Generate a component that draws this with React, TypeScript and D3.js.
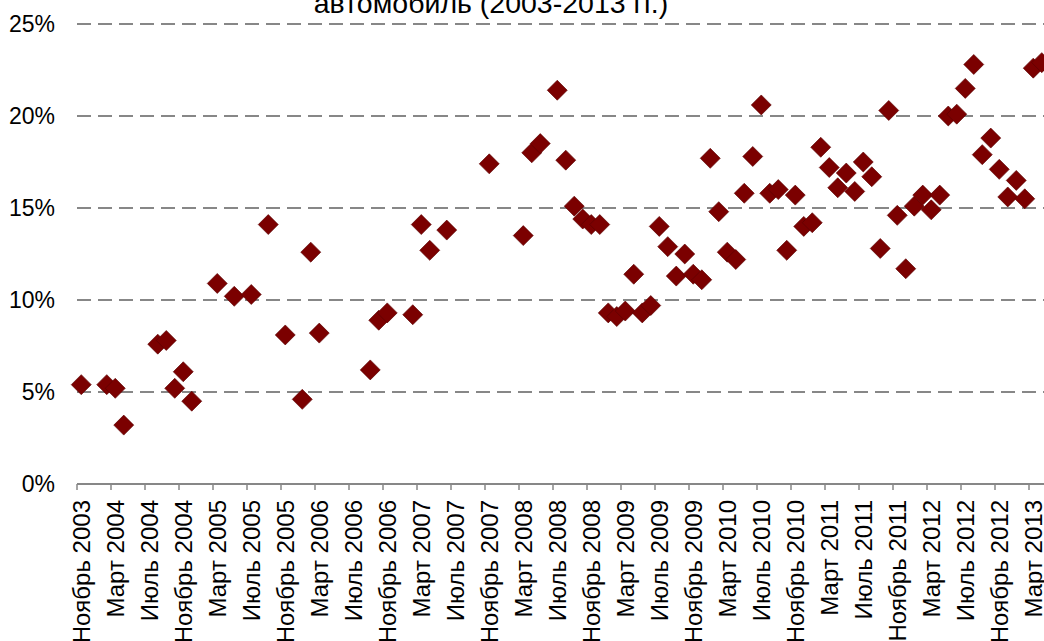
import * as d3 from 'd3'

const W = 1044
const H = 641

// months on the axis, Nov 2003 .. Jun 2013
const START_YEAR = 2003
const START_MONTH = 11
const MONTH_COUNT = 116

const tickLabels = [
  'Ноябрь 2003', 'Март 2004', 'Июль 2004', 'Ноябрь 2004', 'Март 2005', 'Июль 2005',
  'Ноябрь 2005', 'Март 2006', 'Июль 2006', 'Ноябрь 2006', 'Март 2007', 'Июль 2007',
  'Ноябрь 2007', 'Март 2008', 'Июль 2008', 'Ноябрь 2008', 'Март 2009', 'Июль 2009',
  'Ноябрь 2009', 'Март 2010', 'Июль 2010', 'Ноябрь 2010', 'Март 2011', 'Июль 2011',
  'Ноябрь 2011', 'Март 2012', 'Июль 2012', 'Ноябрь 2012', 'Март 2013',
]

const pointMonths = [
  '2003-11', '2004-02', '2004-03', '2004-04', '2004-08', '2004-09', '2004-10', '2004-11',
  '2004-12', '2005-03', '2005-05', '2005-07', '2005-09', '2005-11', '2006-01', '2006-02',
  '2006-03', '2006-09', '2006-10', '2006-11', '2007-02', '2007-03', '2007-04', '2007-06',
  '2007-11', '2008-03', '2008-04', '2008-05', '2008-07', '2008-08', '2008-09', '2008-10',
  '2008-11', '2008-12', '2009-01', '2009-02', '2009-03', '2009-04', '2009-05', '2009-06',
  '2009-07', '2009-08', '2009-09', '2009-10', '2009-11', '2009-12', '2010-01', '2010-02',
  '2010-03', '2010-04', '2010-05', '2010-06', '2010-07', '2010-08', '2010-09', '2010-10',
  '2010-11', '2010-12', '2011-01', '2011-02', '2011-03', '2011-04', '2011-05', '2011-06',
  '2011-07', '2011-08', '2011-09', '2011-10', '2011-11', '2011-12', '2012-01', '2012-02',
  '2012-03', '2012-04', '2012-05', '2012-06', '2012-07', '2012-08', '2012-09', '2012-10',
  '2012-11', '2012-12', '2013-01', '2013-02', '2013-03', '2013-04',
]

const pointValues = [
  5.4, 5.4, 5.2, 3.2, 7.6, 7.8, 5.2, 6.1,
  4.5, 10.9, 10.2, 10.3, 14.1, 8.1, 4.6, 12.6,
  8.2, 6.2, 8.9, 9.3, 9.2, 14.1, 12.7, 13.8,
  17.4, 13.5, 18.0, 18.5, 21.4, 17.6, 15.1, 14.4,
  14.1, 14.1, 9.3, 9.1, 9.4, 11.4, 9.3, 9.7,
  14.0, 12.9, 11.3, 12.5, 11.4, 11.1, 17.7, 14.8,
  12.6, 12.2, 15.8, 17.8, 20.6, 15.8, 16.0, 12.7,
  15.7, 14.0, 14.2, 18.3, 17.2, 16.1, 16.9, 15.9,
  17.5, 16.7, 12.8, 20.3, 14.6, 11.7, 15.1, 15.7,
  14.9, 15.7, 20.0, 20.1, 21.5, 22.8, 17.9, 18.8,
  17.1, 15.6, 16.5, 15.5, 22.6, 22.9,
]

const yTicks = [0, 5, 10, 15, 20, 25]

const TITLE = 'автомобиль (2003-2013 гг.)'

const FONT = '"Liberation Sans", Arial, sans-serif'
const GRID = '#878787'
const MARKER = '#7b0000'

function monthKey(i: number) {
  const m0 = START_MONTH - 1 + i
  const y = START_YEAR + Math.floor(m0 / 12)
  const m = (m0 % 12) + 1
  return `${y}-${String(m).padStart(2, '0')}`
}

export default function App() {
  const months = d3.range(MONTH_COUNT).map(monthKey)
  const left = 77
  const step = 8.5

  const x = d3.scaleBand<string>()
    .domain(months)
    .range([left, left + MONTH_COUNT * step])
    .padding(0)
  const y = d3.scaleLinear().domain([0, 25]).range([484, 24])

  const diamond = d3.symbol().type(d3.symbolSquare).size(200)() ?? ''
  const tickMonths = months.filter((_, i) => i % 4 === 0).slice(0, tickLabels.length)

  return (
    <div style={{ position: 'absolute', left: 0, top: 0 }}>
      <svg width={W} height={H} style={{ display: 'block', background: '#fff' }} fontFamily={FONT}>
        <text x={491} y={13} textAnchor="middle" fontSize={28.5} fill="#000">{TITLE}</text>

        {yTicks.filter((t) => t > 0).map((t) => (
          <line key={t} x1={left} x2={W} y1={y(t)} y2={y(t)}
            stroke={GRID} strokeWidth={1.8} strokeDasharray="14,7" />
        ))}
        <line x1={left} x2={W} y1={y(0)} y2={y(0)} stroke={GRID} strokeWidth={1.8} />

        {yTicks.map((t) => (
          <text key={t} x={55} y={y(t)} dy="0.35em" textAnchor="end" fontSize={23} fill="#000">
            {`${t}%`}
          </text>
        ))}

        {d3.range(0, MONTH_COUNT + 1, 4).map((i) => {
          const tx = left + i * step
          return <line key={i} x1={tx} x2={tx} y1={y(0)} y2={y(0) + 6} stroke={GRID} strokeWidth={1.5} />
        })}

        {tickMonths.map((m, i) => {
          const cx = (x(m) ?? 0) + x.bandwidth() / 2
          return (
            <text key={m} transform={`translate(${cx},500) rotate(-90)`} dy="0.35em"
              textAnchor="end" fontSize={24} fill="#000">
              {tickLabels[i]}
            </text>
          )
        })}

        {pointMonths.map((m, i) => (
          <path key={m} d={diamond}
            transform={`translate(${(x(m) ?? 0) + x.bandwidth() / 2},${y(pointValues[i])}) rotate(45)`}
            fill={MARKER} stroke="#5a0000" strokeWidth={0.6} />
        ))}
      </svg>
    </div>
  )
}
